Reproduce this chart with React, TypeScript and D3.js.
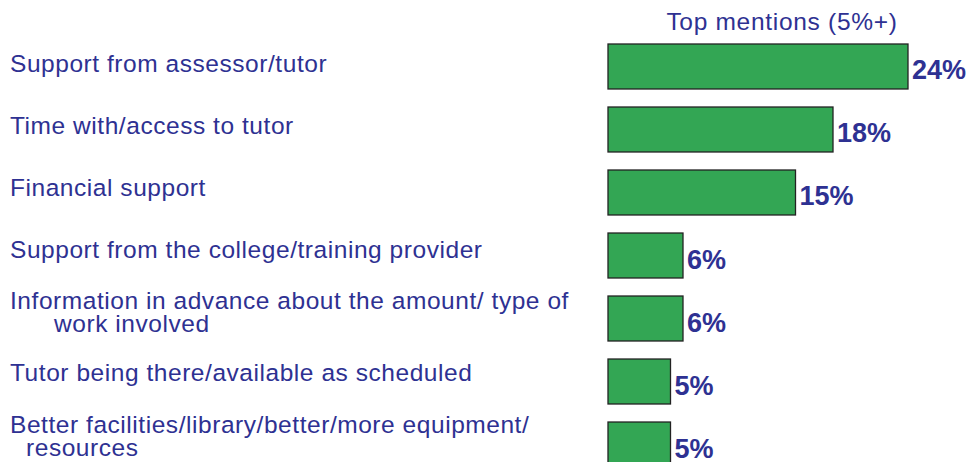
import React from "react";
import * as d3 from "d3";

const categories: string[][] = [
  ["Support from assessor/tutor"],
  ["Time with/access to tutor"],
  ["Financial support"],
  ["Support from the college/training provider"],
  ["Information in advance about the amount/ type of", "work involved"],
  ["Tutor being there/available as scheduled"],
  ["Better facilities/library/better/more equipment/", "resources"],
];
const values: number[] = [24, 18, 15, 6, 6, 5, 5];
const title = "Top mentions (5%+)";

const W = 970;
const H = 462;
const TEXT = "#2e3192";
const GREEN = "#33a654";
const FONT = "'Liberation Sans', Arial, sans-serif";
const secondLineIndent = [0, 0, 0, 0, 44, 0, 16];

export default function App() {
  const x = d3.scaleLinear().domain([0, 24]).range([608, 908]);
  const idx = values.map((_, i) => i);
  const y = d3
    .scaleBand<number>()
    .domain(idx)
    .range([44, 467])
    .paddingInner(0.286)
    .paddingOuter(0);
  const yLabel = d3.scaleLinear().domain([0, 6]).range([72, 443]);

  return (
    <svg
      width={W}
      height={H}
      style={{ position: "absolute", left: 0, top: 0, background: "#fff" }}
      fontFamily={FONT}
    >
      <text
        x={782}
        y={30}
        fill={TEXT}
        fontSize={24.5}
        textAnchor="middle"
        letterSpacing={0.7}
      >
        {title}
      </text>
      {idx.map((i) => {
        const lines = categories[i];
        const base = yLabel(i);
        return (
          <text key={"l" + i} fill={TEXT} fontSize={24.5} letterSpacing={0.55}>
            {lines.map((ln, j) => (
              <tspan
                key={j}
                x={10 + (j > 0 ? secondLineIndent[i] : 0)}
                y={lines.length === 1 ? base : base - 10.5 + j * 23}
              >
                {ln}
              </tspan>
            ))}
          </text>
        );
      })}
      {idx.map((i) => {
        const y0 = y(i)!;
        const bw = y.bandwidth();
        return (
          <g key={"b" + i}>
            <rect
              x={x(0)}
              y={y0}
              width={x(values[i]) - x(0)}
              height={bw}
              fill={GREEN}
              stroke="#222"
              strokeWidth={1.3}
            />
            <text
              x={x(values[i]) + 4}
              y={y0 + bw / 2 + 13}
              fill={TEXT}
              fontSize={27}
              fontWeight="bold"
            >
              {values[i] + "%"}
            </text>
          </g>
        );
      })}
    </svg>
  );
}
